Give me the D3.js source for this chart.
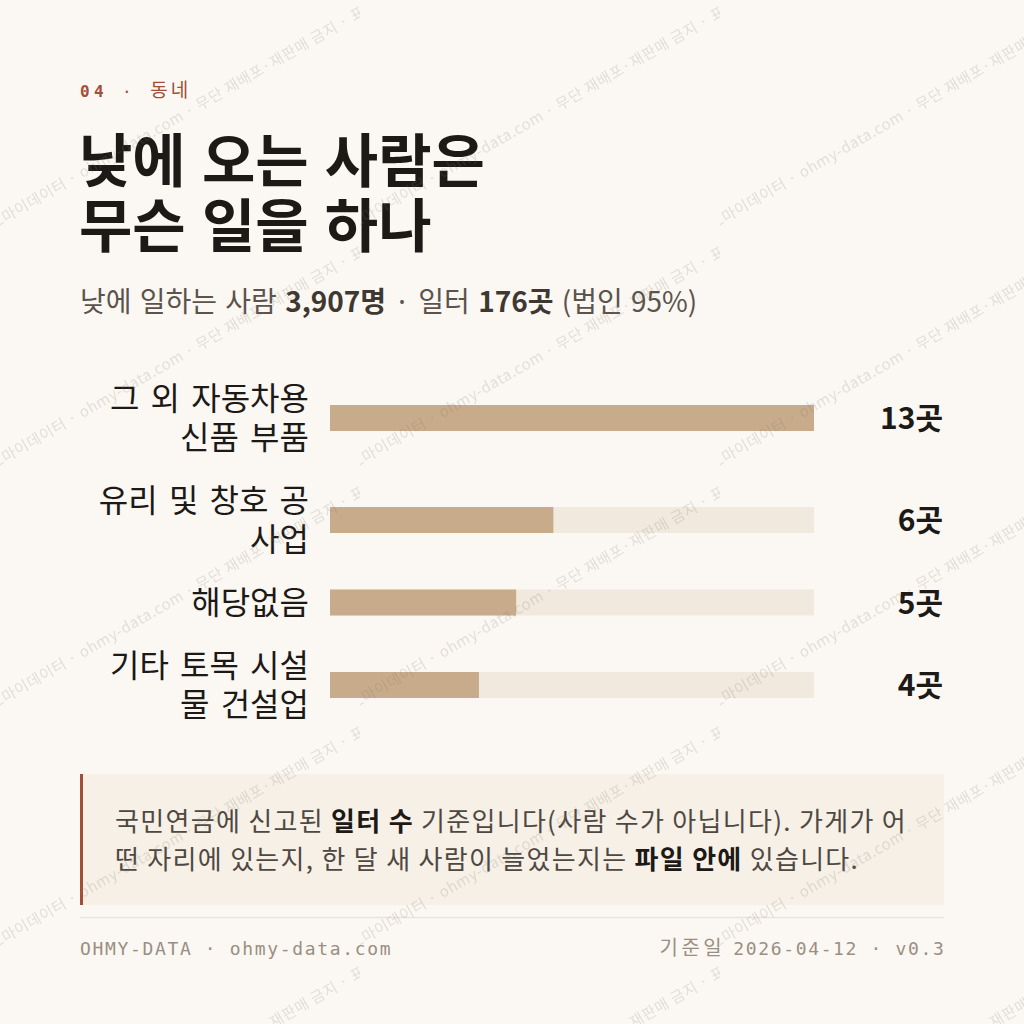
<!DOCTYPE html>
<html><head><meta charset="utf-8">
<script src="https://cdn.jsdelivr.net/npm/d3@7"></script>
<style>
html,body{margin:0;padding:0;background:#fbf8f3;}
svg{display:block;}
</style></head><body>
<svg id="chart" width="1024" height="1024"></svg>
<script>
// ---- data ----
const eyebrowNum = "04";
const eyebrowTopic = "동네";
const titleLines = ["낮에 오는 사람은", "무슨 일을 하나"];
const totalPeople = 3907;
const totalSites = 176;
const corpShare = 95;
const categories = ["그 외 자동차용 신품 부품", "유리 및 창호 공사업", "해당없음", "기타 토목 시설물 건설업"];
const siteCounts = [13, 6, 5, 4];
const unit = "곳";
const noteLines = [
  [["국민연금에 신고된 ", false], ["일터 수", true], [" 기준입니다(사람 수가 아닙니다). 가게가 어", false]],
  [["떤 자리에 있는지, 한 달 새 사람이 늘었는지는 ", false], ["파일 안에", true], [" 있습니다.", false]]
];
const footerLeft = "OHMY-DATA · ohmy-data.com";
const footerDateLabel = "기준일";
const footerDate = "2026-04-12";
const footerVersion = "v0.3";
const watermarkText = "오마이데이터 · ohmy-data.com · 무단 재배포·재판매 금지 · 표본 자료";

// ---- style ----
const SANS = "'Noto Sans CJK KR', 'Noto Sans', sans-serif";
const MONO = "'DejaVu Sans Mono', monospace";
const C = {
  bg: "#fbf8f3", ink: "#1c1917", sub: "#5b534c", subBold: "#3f3832",
  accent: "#a24f35", bar: "#c8ab8a", track: "#f1e9dd", noteBg: "#f6f0e7",
  noteInk: "#4f4842", rule: "#e9e3da", foot: "#9a8e82"
};

const svg = d3.select("#chart");
svg.append("rect").attr("width", 1024).attr("height", 1024).attr("fill", C.bg);

// eyebrow
const eb = svg.append("text").attr("x", 80).attr("y", 97)
  .attr("font-family", MONO).attr("font-size", 16).attr("letter-spacing", 4.4).attr("fill", C.accent);
eb.append("tspan").attr("font-weight", 700).text(eyebrowNum);
eb.append("tspan").text(" · ");
eb.append("tspan").attr("font-family", SANS).attr("font-size", 19).attr("letter-spacing", 3).text(eyebrowTopic);

// title
svg.append("g").selectAll("text").data(titleLines).join("text")
  .attr("x", 79).attr("y", (d, i) => 182 + i * 65)
  .attr("font-family", SANS).attr("font-weight", 700).attr("font-size", 58)
  .attr("word-spacing", 3).attr("fill", C.ink).text(d => d);

// subtitle
const fmt = d3.format(",");
const st = svg.append("text").attr("x", 80).attr("y", 312)
  .attr("font-family", SANS).attr("font-size", 28).attr("word-spacing", 2).attr("fill", C.sub);
st.append("tspan").text("낮에 일하는 사람 ");
st.append("tspan").attr("font-weight", 700).attr("fill", C.subBold).text(fmt(totalPeople) + "명");
st.append("tspan").text(" · 일터 ");
st.append("tspan").attr("font-weight", 700).attr("fill", C.subBold).text(fmt(totalSites) + unit);
st.append("tspan").text(` (법인 ${corpShare}%)`);

// ---- bars ----
const LABEL_FS = 32, LABEL_WS = 4, LINE_H = 39, BAR_H = 26, GAP = 24;
function wrap(str, maxW) {
  const t = svg.append("text").attr("font-family", SANS).attr("font-size", LABEL_FS).attr("word-spacing", LABEL_WS);
  const lines = []; let cur = "";
  for (const ch of str) {
    const cand = cur + ch;
    t.text(cand.trim());
    if (t.node().getComputedTextLength() > maxW && cur.trim() !== "") {
      lines.push(cur.trim()); cur = ch === " " ? "" : ch;
    } else cur = cand;
  }
  lines.push(cur.trim());
  t.remove();
  return lines;
}
const rows = categories.map((c, i) => ({ name: c, value: siteCounts[i], lines: wrap(c, 216) }));
let yCur = 379;
rows.forEach(r => {
  r.h = Math.max(r.lines.length * LINE_H, BAR_H);
  r.cy = yCur + r.h / 2;
  yCur += r.h + GAP;
});
const x = d3.scaleLinear().domain([0, d3.max(siteCounts)]).range([330, 814]);

const rowG = svg.append("g").selectAll("g").data(rows).join("g");
rowG.append("rect").attr("x", x(0)).attr("y", d => d.cy - BAR_H / 2)
  .attr("width", x.range()[1] - x(0)).attr("height", BAR_H).attr("fill", C.track);
rowG.append("rect").attr("x", x(0)).attr("y", d => d.cy - BAR_H / 2)
  .attr("width", d => x(d.value) - x(0)).attr("height", BAR_H).attr("fill", C.bar);
rowG.append("text").attr("text-anchor", "end")
  .attr("font-family", SANS).attr("font-size", LABEL_FS).attr("word-spacing", LABEL_WS).attr("fill", C.ink)
  .each(function (d) {
    const n = d.lines.length;
    d3.select(this).selectAll("tspan").data(d.lines).join("tspan")
      .attr("x", 309).attr("y", (l, i) => d.cy + (i - (n - 1) / 2) * LINE_H + 11)
      .text(l => l);
  });
rowG.append("text").attr("text-anchor", "end").attr("x", 943).attr("y", d => d.cy + 11)
  .attr("font-family", SANS).attr("font-weight", 700).attr("font-size", 30).attr("fill", C.ink)
  .text(d => d.value + unit);

// ---- note ----
svg.append("rect").attr("x", 80).attr("y", 774).attr("width", 864).attr("height", 131).attr("fill", C.noteBg);
svg.append("rect").attr("x", 80).attr("y", 774).attr("width", 3).attr("height", 131).attr("fill", C.accent);
svg.append("g").selectAll("text").data(noteLines).join("text")
  .attr("x", 115).attr("y", (d, i) => 831 + i * 38)
  .attr("font-family", SANS).attr("font-size", 26).attr("letter-spacing", 1.3).attr("fill", C.noteInk)
  .each(function (segs) {
    d3.select(this).selectAll("tspan").data(segs).join("tspan")
      .attr("font-weight", s => s[1] ? 700 : 400)
      .attr("fill", s => s[1] ? C.ink : C.noteInk)
      .text(s => s[0]);
  });

// rule
svg.append("line").attr("x1", 80).attr("x2", 944).attr("y1", 917.5).attr("y2", 917.5)
  .attr("stroke", C.rule).attr("stroke-width", 1.5);

// footer
svg.append("text").attr("x", 80).attr("y", 955).attr("font-family", MONO).attr("font-size", 18)
  .attr("letter-spacing", 1.65).attr("fill", C.foot).text(footerLeft);
const fr = svg.append("text").attr("x", 945.5).attr("y", 955).attr("text-anchor", "end")
  .attr("font-family", MONO).attr("font-size", 18).attr("letter-spacing", 1.65).attr("fill", C.foot);
fr.append("tspan").attr("font-family", SANS).attr("font-size", 20).attr("letter-spacing", 3.5).text(footerDateLabel + " ");
fr.append("tspan").text(`${footerDate} · ${footerVersion}`);

// ---- watermark ----
const defs = svg.append("defs");
const pat = defs.append("pattern").attr("id", "wm").attr("patternUnits", "userSpaceOnUse")
  .attr("width", 360).attr("height", 240);
pat.append("text").attr("transform", "translate(0,226) rotate(-30)").attr("x", -8)
  .attr("font-family", SANS).attr("font-size", 15).attr("letter-spacing", 0.6)
  .attr("fill", "#7d7268").attr("fill-opacity", 0.2).text(watermarkText);
svg.append("rect").attr("width", 1024).attr("height", 1024).attr("fill", "url(#wm)")
  .attr("pointer-events", "none");
</script>
</body></html>
